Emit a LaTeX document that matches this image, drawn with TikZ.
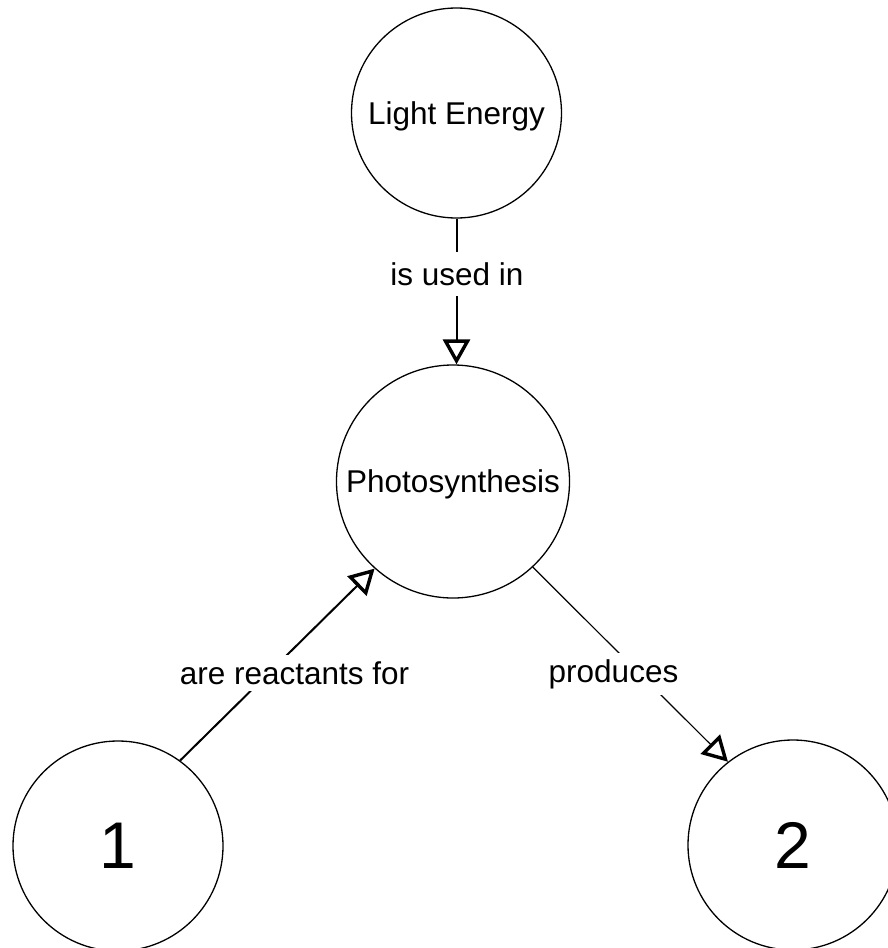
\documentclass[tikz,border=0pt]{standalone}
\usepackage{fontspec}
\setmainfont{Liberation Sans}
\usetikzlibrary{arrows.meta}
\begin{document}
\begin{tikzpicture}[x=1pt,y=-1pt,
  concept/.style={draw,circle,line width=1.3pt,inner sep=0pt,text depth=0pt,
    font=\fontsize{31.5}{36}\selectfont},
  bigconcept/.style={concept,font=\fontsize{66}{72}\selectfont},
  link/.style={line width=2pt,-{Triangle[open,length=25pt,width=27pt,line width=3.4pt]}},
  linklabel/.style={fill=white,inner xsep=2pt,inner ysep=6pt,font=\fontsize{31.5}{36}\selectfont}]
\useasboundingbox (0,0) rectangle (888,948);
\node[concept,minimum size=210pt] (le) at (456.5,113) {Light Energy};
\node[concept,minimum size=233pt] (ps) at (453,481.5) {Photosynthesis};
\node[bigconcept,minimum size=210pt] (c1) at (118,846) {1};
\node[bigconcept,minimum size=210pt] (c2) at (793,845) {2};
\draw[link] (le.south) -- (le.south |- ps.north);
\draw[link] (c1.54) -- (ps.228);
\draw[link,line width=1.2pt] (ps.313) -- (c2.128);
\node[linklabel,inner ysep=10pt] (l1) at (457,274) {is used in};
\node[linklabel] (l2) at (294.5,673) {are reactants for};
\node[linklabel] (l3) at (613.5,674) {produces};
\end{tikzpicture}
\end{document}
